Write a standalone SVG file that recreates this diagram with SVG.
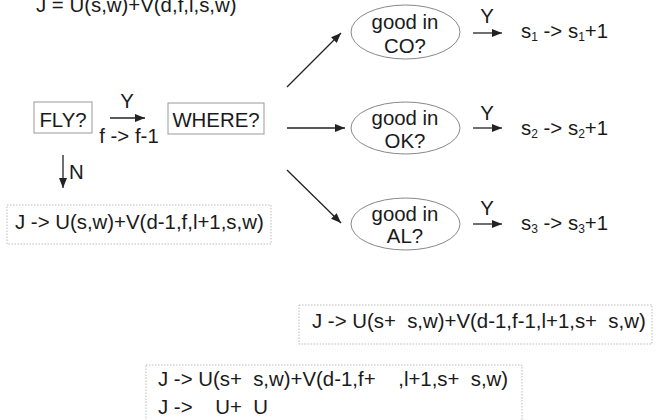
<svg xmlns="http://www.w3.org/2000/svg" width="656" height="420" viewBox="0 0 656 420">
<style>
text{font-family:"Liberation Sans",Arial,sans-serif;font-size:20.4px;fill:#1a1a1a;white-space:pre}
.c{text-anchor:middle}
.box{fill:#fff;stroke:#999;stroke-width:1}
.dot{fill:#fff;stroke:#bbb;stroke-width:1;stroke-dasharray:1.5 1.5}
.ell{fill:#fff;stroke:#888;stroke-width:1}
.ln{stroke:#222;stroke-width:1.3;fill:none;marker-end:url(#ah)}
.sub{font-size:12px}
</style>
<defs>
<marker id="ah" viewBox="0 0 10 8" refX="10" refY="4" markerWidth="10" markerHeight="8" markerUnits="userSpaceOnUse" orient="auto">
<path d="M0,0 L10,4 L0,8 Z" fill="#222"/>
</marker>
</defs>
<g id="title"><text x="36" y="12">J = U(s,w)+V(d,f,l,s,w)</text></g>
<g id="connectors">
<line class="ln" x1="110" y1="118" x2="145" y2="118"/>
<line class="ln" x1="63" y1="155" x2="63" y2="188"/>
<line class="ln" x1="287" y1="87" x2="341" y2="33"/>
<line class="ln" x1="287" y1="128" x2="345" y2="128"/>
<line class="ln" x1="287" y1="170" x2="341" y2="223"/>
<line class="ln" x1="473" y1="33" x2="502" y2="33"/>
<line class="ln" x1="473" y1="128" x2="502" y2="128"/>
<line class="ln" x1="473" y1="224" x2="502" y2="224"/>
<text class="c" x="127" y="108">Y</text>
<text class="c" x="129" y="143">f -&gt; f-1</text>
<text x="69" y="179">N</text>
<text class="c" x="487" y="23">Y</text>
<text class="c" x="487" y="120">Y</text>
<text class="c" x="487" y="215">Y</text>
</g>
<g id="fly"><rect class="box" x="34" y="102" width="58" height="31"/><text class="c" x="63" y="127">FLY?</text></g>
<g id="where"><rect class="box" x="168" y="103" width="96" height="31"/><text class="c" x="216" y="127">WHERE?</text></g>
<g id="resultN"><rect class="dot" x="7" y="205" width="264" height="39"/><text x="15" y="229">J -&gt; U(s,w)+V(d-1,f,l+1,s,w)</text></g>
<g id="co"><ellipse class="ell" cx="405.5" cy="32" rx="54.5" ry="27"/><text class="c" x="405" y="29">good in</text><text class="c" x="405" y="53">CO?</text></g>
<g id="ok"><ellipse class="ell" cx="405.5" cy="128" rx="54.5" ry="26"/><text class="c" x="405" y="125">good in</text><text class="c" x="405" y="148">OK?</text></g>
<g id="al"><ellipse class="ell" cx="405.5" cy="224" rx="54.5" ry="26"/><text class="c" x="405" y="221">good in</text><text class="c" x="405" y="243">AL?</text></g>
<g id="s1"><text x="521" y="38">s<tspan class="sub" dy="3">1</tspan><tspan dy="-3"> -&gt; s</tspan><tspan class="sub" dy="3">1</tspan><tspan dy="-3">+1</tspan></text></g>
<g id="s2"><text x="521" y="135">s<tspan class="sub" dy="3">2</tspan><tspan dy="-3"> -&gt; s</tspan><tspan class="sub" dy="3">2</tspan><tspan dy="-3">+1</tspan></text></g>
<g id="s3"><text x="521" y="230">s<tspan class="sub" dy="3">3</tspan><tspan dy="-3"> -&gt; s</tspan><tspan class="sub" dy="3">3</tspan><tspan dy="-3">+1</tspan></text></g>
<g id="result2"><rect class="dot" x="299" y="305" width="353" height="39"/><text x="312" y="328">J -&gt; U(s+  s,w)+V(d-1,f-1,l+1,s+  s,w)</text></g>
<g id="result3"><rect class="dot" x="146" y="365" width="376" height="60"/><text x="158" y="386">J -&gt; U(s+  s,w)+V(d-1,f+    ,l+1,s+  s,w)</text><text x="158" y="414">J -&gt;    U+  U</text></g>
</svg>
